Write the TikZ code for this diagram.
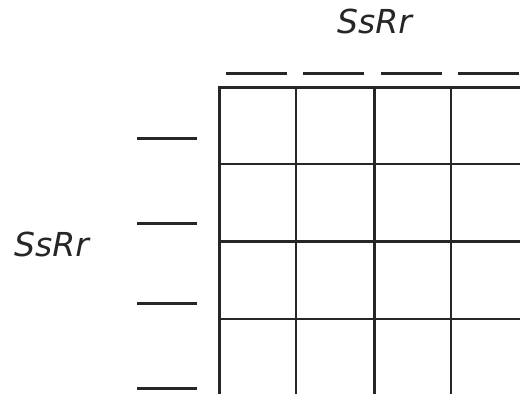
\documentclass[tikz,border=0pt]{standalone}
\usepackage{fontspec}
\newfontfamily\genofont{DejaVu Sans}
\usetikzlibrary{positioning}
\tikzset{
  geno/.style = {font=\genofont\itshape\fontsize{33}{40}\selectfont, inner sep=0pt, text=black!85},
  blank/.style = {line width=3pt, black!85},
  thinline/.style = {line width=1.9pt, black!85},
  thickline/.style = {line width=3pt, black!85}
}

\begin{document}
\begin{tikzpicture}[x=1pt,y=-1pt]
  \clip (0,0) rectangle (520,394);
  % parent genotypes
  \node [geno, anchor=base] (top) at (374.5,33) {SsRr};
  \node [geno, anchor=base] (side) at (51.5,256) {SsRr};
  % blanks for the gametes
  \foreach \x in {226,303,381,458}
    \draw [blank] (\x,73) -- ++(61,0);
  \foreach \y in {138,223,303,388}
    \draw [blank] (137,\y) -- ++(60,0);
  % the square
  \foreach \x in {296,451}
    \draw [thinline] (\x,87) -- (\x,400);
  \foreach \y in {164,319}
    \draw [thinline] (219,\y) -- (530,\y);
  \draw [thickline] (219,400) -- (219,87) -- (530,87);
  \draw [thickline] (374,87) -- (374,400);
  \draw [thickline] (219,241) -- (530,241);
\end{tikzpicture}
\end{document}
